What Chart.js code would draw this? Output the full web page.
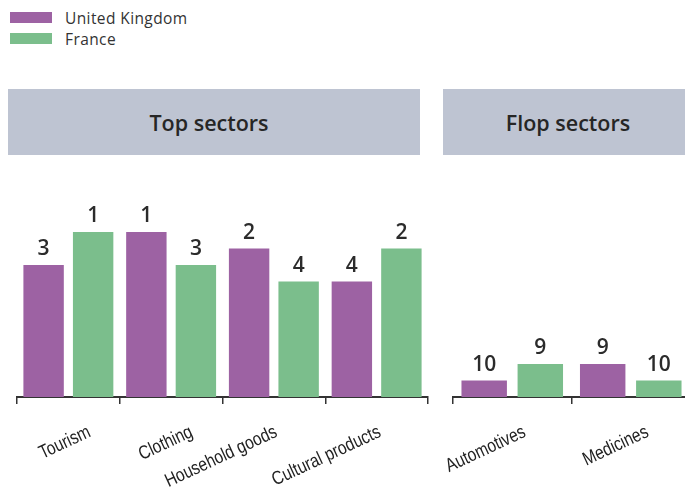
<!DOCTYPE html>
<html>
<head>
<meta charset="utf-8">
<script src="https://cdn.jsdelivr.net/npm/chart.js@4/dist/chart.umd.min.js"></script>
<style>
  html, body { margin: 0; padding: 0; background: #fff; overflow: hidden; }
  body { width: 685px; height: 497px; position: relative; font-family: "Open Sans", sans-serif; }
  .legend { position: absolute; left: 10px; top: 7px; color: #333; font-size: 15.5px; letter-spacing: 0.4px; }
  .legend .row { display: flex; align-items: center; height: 21px; }
  .legend .swatch { width: 42px; height: 11px; margin-right: 13px; }
  .header { position: absolute; top: 89px; height: 66px; background: #bec4d2; color: #262626;
            font-size: 21.5px; font-weight: 600;
            display: flex; align-items: center; justify-content: center; }
  .wrap { position: absolute; top: 160px; height: 337px; }
</style>
</head>
<body>
<div class="legend">
  <div class="row"><div class="swatch" style="background:#9d62a3"></div>United Kingdom</div>
  <div class="row"><div class="swatch" style="background:#7bbe8c"></div>France</div>
</div>
<div class="header" style="left:8px;width:412px;padding-right:10px;box-sizing:border-box">Top sectors</div>
<div class="header" style="left:443px;width:242px;padding-left:8px;box-sizing:border-box">Flop sectors</div>
<div class="wrap" style="left:0;width:440px"><canvas id="chartTop"></canvas></div>
<div class="wrap" style="left:440px;width:250px"><canvas id="chartFlop"></canvas></div>
<script>
const topSectors = ['Tourism', 'Clothing', 'Household goods', 'Cultural products']
const flopSectors = ['Automotives', 'Medicines']

// bar heights
const ukTopValues = [8, 10, 9, 7]
const franceTopValues = [10, 8, 7, 9]
const ukFlopValues = [1, 2]
const franceFlopValues = [2, 1]

// ranks printed above the bars
const ukTopRanks = [3, 1, 2, 4]
const franceTopRanks = [1, 3, 4, 2]
const ukFlopRanks = [10, 9]
const franceFlopRanks = [9, 10]

const ukColor = '#9d62a3'
const franceColor = '#7bbe8c'

const rankLabelsPlugin = {
  id: 'rankLabels',
  afterDatasetsDraw: (chart) => {
    const { ctx } = chart
    ctx.save()
    ctx.font = '600 21px "Open Sans", sans-serif'
    ctx.fillStyle = '#2b2b2b'
    ctx.textAlign = 'center'
    ctx.textBaseline = 'alphabetic'
    chart.data.datasets.forEach((ds, i) => {
      const meta = chart.getDatasetMeta(i)
      meta.data.forEach((bar, j) => {
        ctx.fillText(ds.ranks[j], bar.x, bar.y - 10)
      })
    })
    ctx.restore()
  }
}

// slanted, condensed category names under the axis
// (long names sit a bit further left than short ones)
const slantedTicksPlugin = {
  id: 'slantedTicks',
  afterDraw: (chart) => {
    const { ctx, scales } = chart
    const xScale = scales.x
    const squeeze = 0.82
    ctx.save()
    ctx.font = '19px "Liberation Sans", Arial, sans-serif'
    ctx.fillStyle = '#222'
    ctx.textAlign = 'right'
    ctx.textBaseline = 'alphabetic'
    chart.data.labels.forEach((label, i) => {
      const len = ctx.measureText(label).width * squeeze
      ctx.save()
      ctx.translate(xScale.getPixelForValue(i) + 39 - 0.285 * len, xScale.top + 39)
      ctx.rotate(-25 * Math.PI / 180)
      ctx.scale(squeeze, 1)
      ctx.fillText(label, 0, 0)
      ctx.restore()
    })
    ctx.restore()
  }
}

function makeChart (id, labels, ukValues, frValues, ukRanks, frRanks, padding, catPct, barPct) {
  return new Chart(document.getElementById(id), {
    type: 'bar',
    data: {
      labels: labels,
      datasets: [
        { label: 'United Kingdom', data: ukValues, ranks: ukRanks, backgroundColor: ukColor },
        { label: 'France', data: frValues, ranks: frRanks, backgroundColor: franceColor }
      ]
    },
    options: {
      responsive: true,
      maintainAspectRatio: false,
      animation: false,
      categoryPercentage: catPct,
      barPercentage: barPct,
      layout: { padding: padding },
      plugins: {
        legend: { display: false },
        tooltip: { enabled: false }
      },
      scales: {
        x: {
          afterFit: (scale) => {
            scale.height = 100
            scale.paddingLeft = 0
            scale.paddingRight = 0
          },
          border: { display: true, color: '#333', width: 2 },
          grid: {
            offset: true,
            drawOnChartArea: false,
            drawTicks: true,
            tickLength: 7,
            color: '#333',
            lineWidth: 1.5
          },
          ticks: { display: false }
        },
        y: {
          display: false,
          min: 0,
          max: 12
        }
      }
    },
    plugins: [rankLabelsPlugin, slantedTicksPlugin]
  })
}

makeChart('chartTop', topSectors, ukTopValues, franceTopValues, ukTopRanks, franceTopRanks,
  { left: 17, right: 12, top: 39, bottom: 0 }, 0.964, 0.816)
makeChart('chartFlop', flopSectors, ukFlopValues, franceFlopValues, ukFlopRanks, franceFlopRanks,
  { left: 13, right: 0, top: 39, bottom: 0 }, 0.947, 0.81)
</script>
</body>
</html>
